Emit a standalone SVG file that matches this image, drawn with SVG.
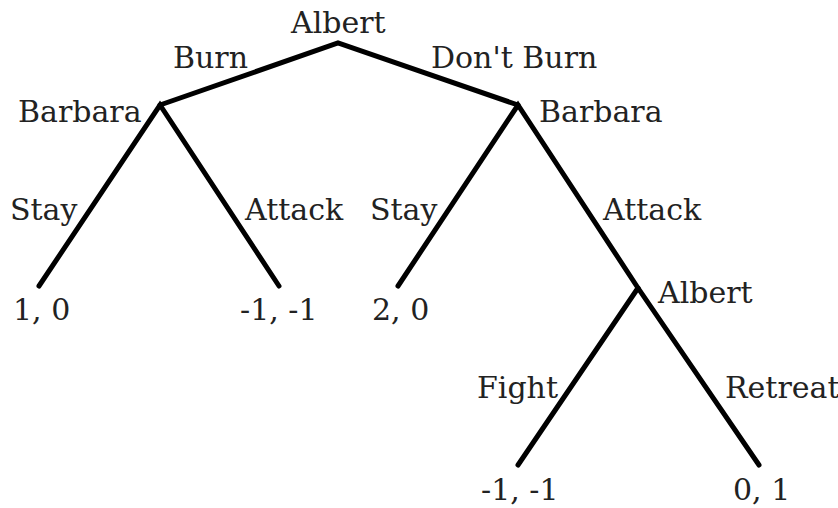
<svg xmlns="http://www.w3.org/2000/svg" width="838" height="508" viewBox="0 0 838 508">
<style>
text{font-family:"DejaVu Serif","Liberation Serif",serif;font-size:30px;fill:#222}
.e{stroke:#000;stroke-width:5;fill:none;stroke-linecap:round;stroke-linejoin:miter}
</style>
<rect width="838" height="508" fill="#fff"/>
<g id="connectors">
<polyline class="e" points="160,105 338,43 518,105"/>
<polyline class="e" points="39,286 160,105 279,286"/>
<polyline class="e" points="398,286 518,105 638,288 759,465"/>
<line class="e" x1="638" y1="288" x2="518" y2="465"/>
</g>
<g id="edge-labels">
<text x="173" y="68">Burn</text>
<text x="431" y="68">Don't Burn</text>
<text x="10" y="220">Stay</text>
<text x="245" y="220">Attack</text>
<text x="370" y="220">Stay</text>
<text x="603" y="220">Attack</text>
<text x="477" y="398">Fight</text>
<text x="725" y="398">Retreat</text>
</g>
<g id="n-root"><text x="291" y="33">Albert</text></g>
<g id="n-barbara-left"><text x="18" y="122">Barbara</text></g>
<g id="n-barbara-right"><text x="539" y="122">Barbara</text></g>
<g id="n-albert-2"><text x="658" y="303">Albert</text></g>
<g id="leaf-1"><text x="13" y="320">1, 0</text></g>
<g id="leaf-2"><text x="240" y="320">-1, -1</text></g>
<g id="leaf-3"><text x="372" y="320">2, 0</text></g>
<g id="leaf-4"><text x="481" y="500">-1, -1</text></g>
<g id="leaf-5"><text x="733" y="500">0, 1</text></g>
</svg>
